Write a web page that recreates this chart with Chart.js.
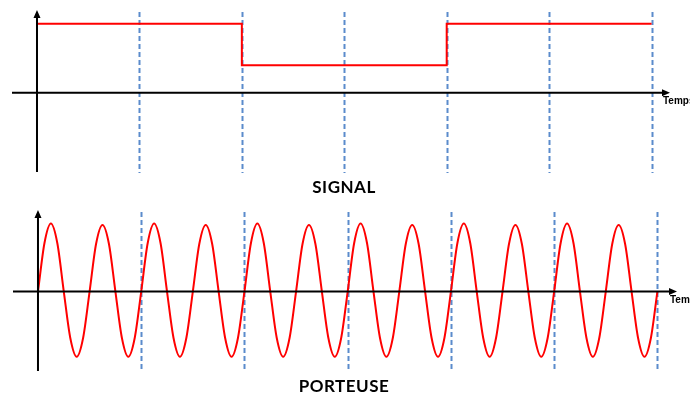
<!DOCTYPE html>
<html lang="fr">
<head>
  <meta charset="UTF-8">
  <title>Signal et porteuse</title>
  <script src="https://cdn.jsdelivr.net/npm/chart.js"></script>
  <style>
    body {
      margin: 0;
      width: 690px;
      height: 395px;
      overflow: hidden;
      background: #fff;
      position: relative;
    }
    canvas {
      position: absolute;
      left: 0;
    }
    #signalChart { top: 0; }
    #carrierChart { top: 200px; }
    .caption {
      position: absolute;
      left: 0;
      width: 688px;
      text-align: center;
      font-family: Lato, "Open Sans", sans-serif;
      font-weight: bold;
      font-size: 17px;
      line-height: 20px;
      letter-spacing: 0.5px;
      color: #000;
    }
  </style>
</head>
<body>
  <canvas id="signalChart" width="690" height="180"></canvas>
  <canvas id="carrierChart" width="690" height="180"></canvas>
  <div class="caption" id="signalTitle" style="top:177px"></div>
  <div class="caption" id="carrierTitle" style="top:376px"></div>

  <script>
    // time is counted in bit periods (one dashed line per period)
    const titles = ['SIGNAL', 'PORTEUSE'];
    const axisLabel = 'Temps';
    const bitBoundaries = [1, 2, 3, 4, 5, 6];

    // square signal: corner points (time, level)
    const signalTimes = [0, 2, 2, 4, 4, 6];
    const signalLevels = [1, 1, 0.4, 0.4, 1, 1];

    // carrier: 12 cycles, sampled every 1/16 of a bit period
    const carrierStep = 0.0625;
    const carrierValues = [
      0, 0.71, 1, 0.71, 0, -0.68, -0.96, -0.68,
      0, 0.7, 0.98, 0.7, 0, -0.68, -0.96, -0.68,
      0, 0.71, 1, 0.71, 0, -0.68, -0.96, -0.68,
      0, 0.7, 0.98, 0.7, 0, -0.68, -0.96, -0.68,
      0, 0.71, 1, 0.71, 0, -0.68, -0.96, -0.68,
      0, 0.7, 0.98, 0.7, 0, -0.68, -0.96, -0.68,
      0, 0.71, 1, 0.71, 0, -0.68, -0.96, -0.68,
      0, 0.7, 0.98, 0.7, 0, -0.68, -0.96, -0.68,
      0, 0.71, 1, 0.71, 0, -0.68, -0.96, -0.68,
      0, 0.7, 0.98, 0.7, 0, -0.68, -0.96, -0.68,
      0, 0.71, 1, 0.71, 0, -0.68, -0.96, -0.68,
      0, 0.7, 0.98, 0.7, 0, -0.68, -0.96, -0.68,
      0
    ];

    document.getElementById('signalTitle').textContent = titles[0];
    document.getElementById('carrierTitle').textContent = titles[1];

    // dashed bit boundaries, arrowed axes and the "Temps" label
    const axesPlugin = {
      id: 'arrowAxes',
      beforeDatasetsDraw(chart) {
        const { ctx, chartArea, scales } = chart;
        ctx.save();
        ctx.strokeStyle = '#5b8bcc';
        ctx.lineWidth = 2;
        ctx.setLineDash([5, 3]);
        bitBoundaries.forEach(t => {
          const x = Math.round(scales.x.getPixelForValue(t)) + 0.5;
          ctx.beginPath();
          ctx.moveTo(x, chartArea.top + 2);
          ctx.lineTo(x, chartArea.bottom + 1);
          ctx.stroke();
        });
        ctx.restore();
      },
      afterDatasetsDraw(chart) {
        const { ctx, chartArea, scales } = chart;
        const x0 = scales.x.getPixelForValue(0);
        const y0 = scales.y.getPixelForValue(0);
        ctx.save();
        ctx.strokeStyle = '#000';
        ctx.fillStyle = '#000';
        ctx.lineWidth = 2;
        ctx.beginPath();
        ctx.moveTo(chartArea.left, y0);
        ctx.lineTo(chartArea.right - 5, y0);
        ctx.moveTo(x0, chartArea.bottom);
        ctx.lineTo(x0, chartArea.top + 5);
        ctx.stroke();
        ctx.beginPath();
        ctx.moveTo(chartArea.right, y0);
        ctx.lineTo(chartArea.right - 8, y0 - 3.5);
        ctx.lineTo(chartArea.right - 8, y0 + 3.5);
        ctx.closePath();
        ctx.moveTo(x0, chartArea.top);
        ctx.lineTo(x0 - 3.5, chartArea.top + 8);
        ctx.lineTo(x0 + 3.5, chartArea.top + 8);
        ctx.closePath();
        ctx.fill();
        ctx.font = 'bold 10px "Liberation Sans", Arial, sans-serif';
        ctx.textBaseline = 'top';
        ctx.fillText(axisLabel, chartArea.right - 7, y0 + 4);
        ctx.restore();
      }
    };

    function makeChart(id, points, xRange, yRange, padding) {
      return new Chart(document.getElementById(id), {
        type: 'line',
        data: {
          datasets: [{
            data: points,
            borderColor: '#ff0000',
            borderWidth: 2,
            pointRadius: 0,
            cubicInterpolationMode: 'monotone',
            clip: false
          }]
        },
        options: {
          responsive: false,
          animation: false,
          events: [],
          layout: { padding },
          plugins: { legend: { display: false }, tooltip: { enabled: false } },
          scales: {
            x: { type: 'linear', display: false, min: xRange[0], max: xRange[1] },
            y: { type: 'linear', display: false, min: yRange[0], max: yRange[1] }
          }
        },
        plugins: [axesPlugin]
      });
    }

    const signalPoints = signalTimes.map((t, i) => ({ x: t, y: signalLevels[i] }));
    const carrierPoints = carrierValues.map((v, i) => ({ x: i * carrierStep, y: v }));

    makeChart('signalChart', signalPoints, [-0.244, 6.18], [-1.15, 1.2],
      { left: 12, right: 20, top: 10, bottom: 8 });
    makeChart('carrierChart', carrierPoints, [-0.242, 6.19], [-1.17, 1.2],
      { left: 13, right: 13, top: 10, bottom: 9 });
  </script>
</body>
</html>
